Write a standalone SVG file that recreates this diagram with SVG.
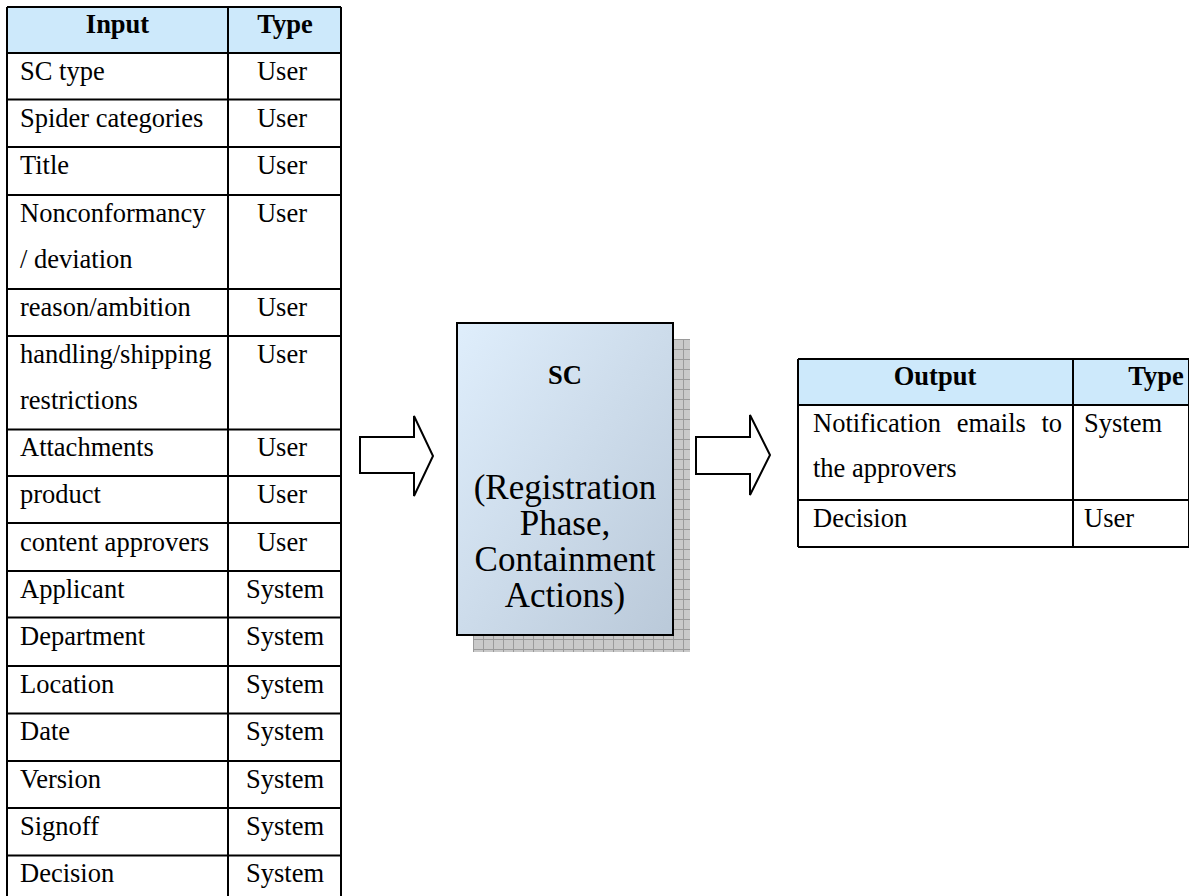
<svg xmlns="http://www.w3.org/2000/svg" width="1189" height="896" viewBox="0 0 1189 896">
  <style>
    .t { font-family: "Liberation Serif", "Times New Roman", serif; font-size: 26.5px; fill: #000; }
    .h { font-weight: bold; text-anchor: middle; }
    .c { text-anchor: middle; }
    .grid { stroke: #000; stroke-width: 2; fill: none; }
    .head { fill: #cde9fb; }
    .arrow { fill: #fff; stroke: #000; stroke-width: 2; stroke-linejoin: miter; }
    .box-text { font-family: "Liberation Serif", "Times New Roman", serif; font-size: 35px; text-anchor: middle; fill: #000; }
  </style>
  <defs>
    <linearGradient id="boxFill" x1="0" y1="0" x2="1" y2="1">
      <stop offset="0" stop-color="#dfeefc"/>
      <stop offset="1" stop-color="#bac9d9"/>
    </linearGradient>
    <pattern id="shadowGrid" x="473" y="339" width="10" height="10" patternUnits="userSpaceOnUse">
      <rect width="10" height="10" fill="#c9c9c9"/>
      <path d="M0 0.5H10M0.5 0V10" stroke="#9a9a9a" stroke-width="1"/>
    </pattern>
  </defs>
  <rect width="1189" height="896" fill="#fff"/>

  <!-- Input table -->
  <g id="input-table">
    <rect class="head" x="7" y="7" width="334" height="46"/>
    <g class="grid">
      <path d="M7 7V896M228 7V896M341 7V896"/>
      <path d="M7 7H341M7 53H341M7 99.5H341M7 147H341M7 195H341M7 289H341M7 336H341M7 429.5H341M7 476H341M7 523H341M7 571H341M7 617.5H341M7 666H341M7 713.5H341M7 761H341M7 808H341M7 855.5H341"/>
    </g>
    <text class="t h" x="117.5" y="33">Input</text>
    <text class="t h" x="285" y="33">Type</text>

    <text class="t" x="20" y="80">SC type</text>
    <text class="t c" x="282" y="80">User</text>
    <text class="t" x="20" y="127">Spider categories</text>
    <text class="t c" x="282" y="127">User</text>
    <text class="t" x="20" y="174">Title</text>
    <text class="t c" x="282" y="174">User</text>
    <text class="t" x="20" y="222">Nonconformancy</text>
    <text class="t" x="20" y="268">/ deviation</text>
    <text class="t c" x="282" y="222">User</text>
    <text class="t" x="20" y="316">reason/ambition</text>
    <text class="t c" x="282" y="316">User</text>
    <text class="t" x="20" y="363">handling/shipping</text>
    <text class="t" x="20" y="409">restrictions</text>
    <text class="t c" x="282" y="363">User</text>
    <text class="t" x="20" y="456">Attachments</text>
    <text class="t c" x="282" y="456">User</text>
    <text class="t" x="20" y="503">product</text>
    <text class="t c" x="282" y="503">User</text>
    <text class="t" x="20" y="551">content approvers</text>
    <text class="t c" x="282" y="551">User</text>
    <text class="t" x="20" y="598">Applicant</text>
    <text class="t c" x="285" y="598">System</text>
    <text class="t" x="20" y="645">Department</text>
    <text class="t c" x="285" y="645">System</text>
    <text class="t" x="20" y="693">Location</text>
    <text class="t c" x="285" y="693">System</text>
    <text class="t" x="20" y="740">Date</text>
    <text class="t c" x="285" y="740">System</text>
    <text class="t" x="20" y="788">Version</text>
    <text class="t c" x="285" y="788">System</text>
    <text class="t" x="20" y="835">Signoff</text>
    <text class="t c" x="285" y="835">System</text>
    <text class="t" x="20" y="882">Decision</text>
    <text class="t c" x="285" y="882">System</text>
  </g>

  <!-- Block arrows between the stages -->
  <g id="connectors">
    <polygon class="arrow" points="360,437 414,437 414,416 433,456 414,496 414,473 360,473"/>
    <polygon class="arrow" points="696,437 750,437 750,415 770,455 750,495 750,474 696,474"/>
  </g>

  <!-- SC process box with grid shadow -->
  <g id="sc-process">
    <rect x="473" y="339" width="217" height="313" fill="url(#shadowGrid)"/>
    <rect x="457" y="323" width="216" height="312" fill="url(#boxFill)" stroke="#000" stroke-width="2"/>
    <text class="t h" x="565" y="384">SC</text>
    <text class="box-text" x="565" y="499">(Registration</text>
    <text class="box-text" x="565" y="535">Phase,</text>
    <text class="box-text" x="565" y="571">Containment</text>
    <text class="box-text" x="565" y="607">Actions)</text>
  </g>

  <!-- Output table -->
  <g id="output-table">
    <rect class="head" x="798" y="359" width="391" height="46"/>
    <g class="grid">
      <path d="M798 359V547M1073 359V547M1189 359V547"/>
      <path d="M798 359H1189M798 405H1189M798 500H1189M798 547H1189"/>
    </g>
    <text class="t h" x="935" y="385">Output</text>
    <text class="t h" x="1156" y="385">Type</text>
    <text class="t" x="813" y="432" word-spacing="9">Notification emails to</text>
    <text class="t" x="813" y="477">the approvers</text>
    <text class="t" x="1084" y="432">System</text>
    <text class="t" x="813" y="527">Decision</text>
    <text class="t" x="1084" y="527">User</text>
  </g>
</svg>
